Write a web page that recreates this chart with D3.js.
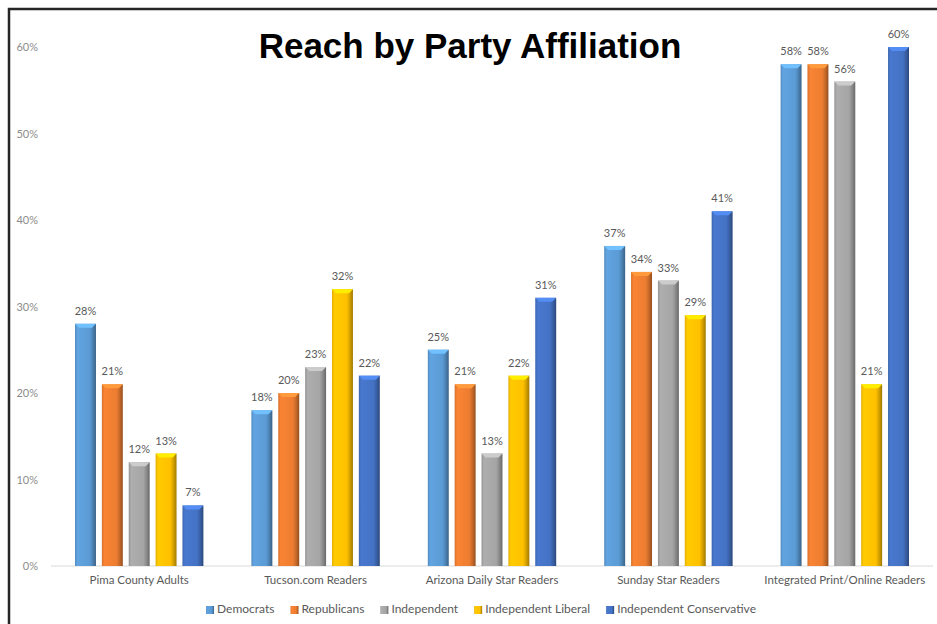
<!DOCTYPE html>
<html>
<head>
<meta charset="utf-8">
<script src="https://cdnjs.cloudflare.com/ajax/libs/d3/7.8.5/d3.min.js"></script>
<style>
  body { margin: 0; background: #fff; }
  svg { display: block; }
  text { font-family: Lato, "Noto Sans", sans-serif; }
</style>
</head>
<body>
<svg id="chart" width="937" height="624"></svg>
<script>
// Chart data
var categories = ['Pima County Adults', 'Tucson.com Readers', 'Arizona Daily Star Readers',
                  'Sunday Star Readers', 'Integrated Print/Online Readers'];
var seriesNames = ['Democrats', 'Republicans', 'Independent', 'Independent Liberal', 'Independent Conservative'];
var seriesColors = ['#5b9bd5', '#ed7d31', '#a5a5a5', '#ffc000', '#4472c4'];
var democrats = [28, 18, 25, 37, 58];
var republicans = [21, 20, 21, 34, 58];
var independent = [12, 23, 13, 33, 56];
var independentLiberal = [13, 32, 22, 29, 21];
var independentConservative = [7, 22, 31, 41, 60];
var yTicks = [0, 10, 20, 30, 40, 50, 60];

var seriesValues = [democrats, republicans, independent, independentLiberal, independentConservative];

var svg = d3.select('#chart');
var defs = svg.append('defs');

// frame (top and left edges only are visible)
svg.append('path')
    .attr('d', 'M9,630 L9,9 L940,9')
    .attr('fill', 'none')
    .attr('stroke', '#262626')
    .attr('stroke-width', 2.5);

var x0 = d3.scaleBand().domain(categories).range([51, 933]);
var x1 = d3.scaleBand().domain(seriesNames)
    .range([24, x0.bandwidth() - 24])
    .paddingInner(0.22);
var y = d3.scaleLinear().domain([0, 60]).range([566, 47]);

// bevel gradients, one per series
seriesColors.forEach(function (c, i) {
    var base = d3.color(c);
    var g = defs.append('linearGradient')
        .attr('id', 'grad' + i)
        .attr('x1', '0').attr('x2', '1').attr('y1', '0').attr('y2', '0');
    g.append('stop').attr('offset', '0%').attr('stop-color', base.darker(0.3));
    g.append('stop').attr('offset', '12%').attr('stop-color', base.brighter(0.15));
    g.append('stop').attr('offset', '70%').attr('stop-color', base);
    g.append('stop').attr('offset', '85%').attr('stop-color', base.darker(0.5));
    g.append('stop').attr('offset', '100%').attr('stop-color', base.darker(1.3));
});

// y axis labels
var yAxis = d3.axisLeft(y)
    .tickValues(yTicks)
    .tickSize(0)
    .tickPadding(0)
    .tickFormat(function (d) { return d + '%'; });
svg.append('g')
    .attr('transform', 'translate(38,0)')
    .call(yAxis)
    .call(function (g) {
        g.select('.domain').remove();
        g.selectAll('text')
            .attr('fill', '#8c8c8c')
            .style('font-size', '11px');
    });

// baseline
svg.append('line')
    .attr('x1', 51).attr('x2', 933)
    .attr('y1', y(0)).attr('y2', y(0))
    .attr('stroke', '#d9d9d9')
    .attr('stroke-width', 1);

// category labels
var xAxis = d3.axisBottom(x0).tickSize(0).tickPadding(10);
svg.append('g')
    .attr('transform', 'translate(0,' + y(0) + ')')
    .call(xAxis)
    .call(function (g) {
        g.select('.domain').remove();
        g.selectAll('text')
            .attr('fill', '#595959')
            .style('font-size', '11.5px');
    });

// bars
var groups = svg.append('g').attr('class', 'bars')
    .selectAll('g')
    .data(categories)
    .enter()
    .append('g')
    .attr('transform', function (d) { return 'translate(' + x0(d) + ',0)'; });

groups.each(function (cat, ci) {
    var sel = d3.select(this);
    seriesNames.forEach(function (s, si) {
        var v = seriesValues[si][ci];
        var bx = x1(s), bw = x1.bandwidth();
        var top = y(v), bottom = y(0);
        var base = d3.color(seriesColors[si]);

        sel.append('rect')
            .attr('x', bx).attr('y', top)
            .attr('width', bw).attr('height', bottom - top)
            .attr('fill', 'url(#grad' + si + ')');

        // top bevel cap
        var cap = 4;
        sel.append('path')
            .attr('d', 'M' + bx + ',' + top +
                ' L' + (bx + bw) + ',' + top +
                ' L' + (bx + bw - cap) + ',' + (top + cap) +
                ' L' + (bx + cap) + ',' + (top + cap) + ' Z')
            .attr('fill', base.brighter(0.6));

        // value label
        sel.append('text')
            .attr('x', bx + bw / 2)
            .attr('y', top - 9)
            .attr('text-anchor', 'middle')
            .attr('fill', '#595959')
            .style('font-size', '11px')
            .text(v + '%');
    });
});

// title
svg.append('text')
    .attr('x', 470)
    .attr('y', 58)
    .attr('text-anchor', 'middle')
    .style('font-family', '"Liberation Sans", Arial, sans-serif')
    .style('font-weight', 'bold')
    .style('font-size', '35px')
    .attr('fill', '#000')
    .text('Reach by Party Affiliation');

// legend
var legend = svg.append('g').attr('class', 'legend');
var items = legend.selectAll('g')
    .data(seriesNames)
    .enter()
    .append('g');
items.append('rect')
    .attr('width', 8).attr('height', 8)
    .attr('y', -7)
    .attr('fill', function (d, i) { return 'url(#grad' + i + ')'; });
items.append('text')
    .attr('x', 11)
    .attr('y', 0)
    .attr('fill', '#595959')
    .style('font-size', '12px')
    .text(function (d) { return d; });

var offs = [], cur = 0;
items.each(function () {
    offs.push(cur);
    cur += 11 + this.querySelector('text').getComputedTextLength() + 16;
});
var total = cur - 16;
var startX = 481 - total / 2;
items.attr('transform', function (d, i) { return 'translate(' + (startX + offs[i]) + ',613)'; });
</script>
</body>
</html>
